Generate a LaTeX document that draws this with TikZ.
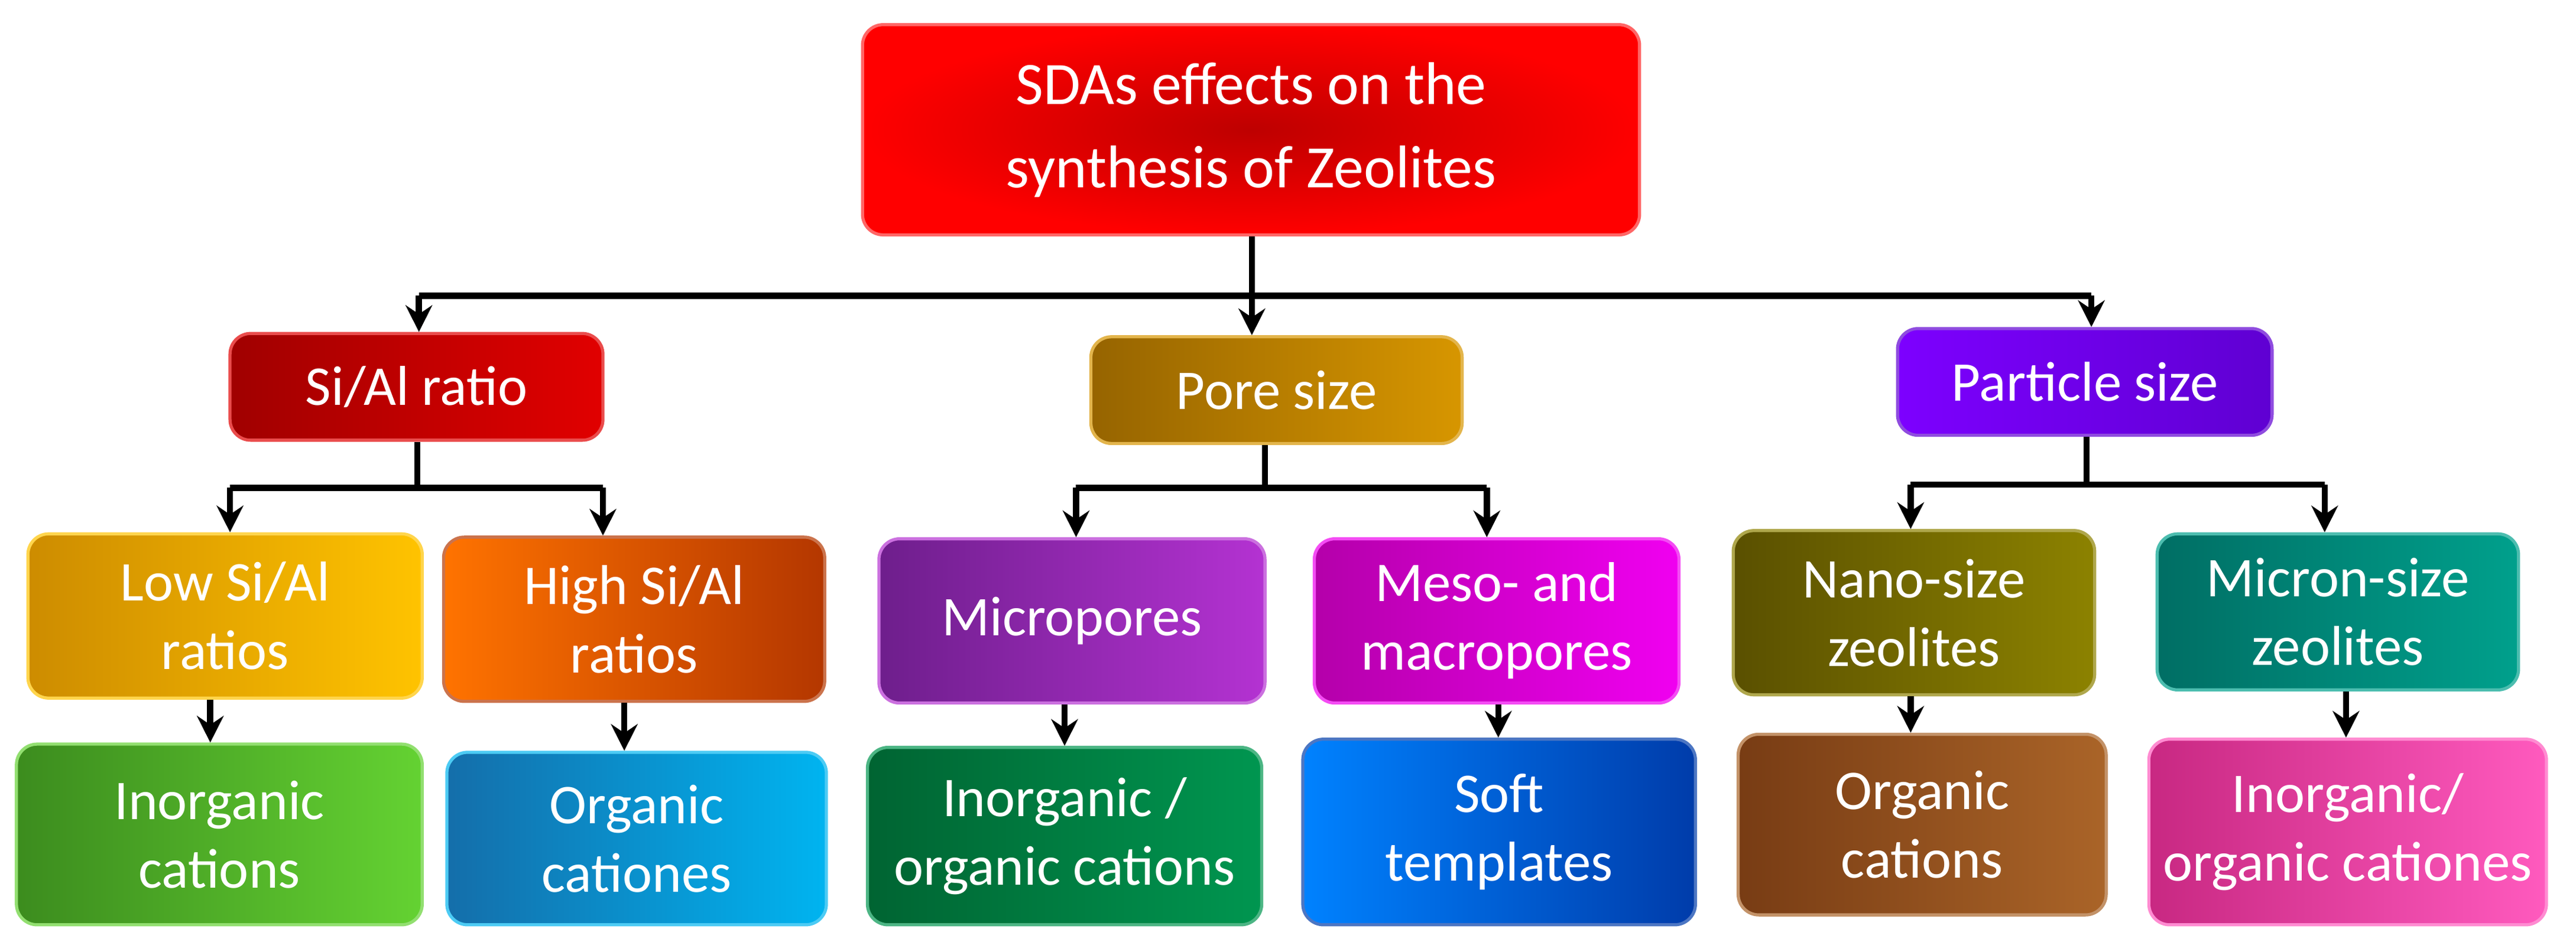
\documentclass[tikz,border=0pt]{standalone}
\usepackage{fontspec}
\setmainfont{Carlito}
\usetikzlibrary{arrows.meta}
\def\u{0.02779cm}
\tikzset{
  box/.style={rounded corners=0.35cm, line width=1.5pt, text=white, align=center,
    font=\fontsize{27}{33}\selectfont, inner sep=0pt},
  arr/.style={line width=3pt, -{Stealth[length=0.45cm,width=0.45cm,inset=0.15cm]}},
  ln/.style={line width=3pt},
}
\newcommand{\bx}[8]{% name cx cy w h c1 c2 text
  \node[box, minimum width=#4*\u, minimum height=#5*\u, left color=#6, right color=#7, draw=#7!70!white] (#1) at (#2,#3) {#8};}
\begin{document}
\begin{tikzpicture}[x=\u,y=-\u]
\useasboundingbox (0,0) rectangle (1568,575.3);
\definecolor{c1a}{RGB}{160,0,0}\definecolor{c1b}{RGB}{225,0,0}
\definecolor{c2a}{RGB}{150,100,0}\definecolor{c2b}{RGB}{215,150,0}
\definecolor{c3a}{RGB}{125,0,255}\definecolor{c3b}{RGB}{95,0,210}
\definecolor{c4a}{RGB}{205,140,0}\definecolor{c4b}{RGB}{255,195,0}
\definecolor{c5a}{RGB}{255,115,0}\definecolor{c5b}{RGB}{180,55,0}
\definecolor{c6a}{RGB}{110,30,140}\definecolor{c6b}{RGB}{180,50,210}
\definecolor{c7a}{RGB}{180,0,170}\definecolor{c7b}{RGB}{240,0,240}
\definecolor{c8a}{RGB}{90,80,0}\definecolor{c8b}{RGB}{140,130,0}
\definecolor{c9a}{RGB}{0,110,100}\definecolor{c9b}{RGB}{0,160,140}
\definecolor{d1a}{RGB}{60,140,30}\definecolor{d1b}{RGB}{100,210,50}
\definecolor{d2a}{RGB}{20,110,170}\definecolor{d2b}{RGB}{0,180,240}
\definecolor{d3a}{RGB}{0,100,50}\definecolor{d3b}{RGB}{0,150,80}
\definecolor{d4a}{RGB}{0,130,255}\definecolor{d4b}{RGB}{0,60,170}
\definecolor{d5a}{RGB}{120,60,20}\definecolor{d5b}{RGB}{170,100,40}
\definecolor{d6a}{RGB}{200,40,130}\definecolor{d6b}{RGB}{255,90,190}
\node[box, minimum width=473*\u, minimum height=128*\u, inner color={rgb,255:red,190;green,0;blue,0}, outer color=red, draw=red!60!white, font=\fontsize{29}{40}\selectfont] (top) at (761.5,79) {SDAs effects on the\\synthesis of Zeolites};
\bx{sial}{253.5}{235.5}{227}{65}{c1a}{c1b}{Si/Al ratio}
\bx{pore}{777}{237.5}{226}{65}{c2a}{c2b}{Pore size}
\bx{part}{1269}{232.5}{228}{65}{c3a}{c3b}{Particle size}
\bx{low}{137}{375}{240}{100}{c4a}{c4b}{Low Si/Al\\ratios}
\bx{high}{386}{377}{232}{100}{c5a}{c5b}{High Si/Al\\ratios}
\bx{micro}{652.5}{378}{235}{100}{c6a}{c6b}{Micropores}
\bx{meso}{911}{378}{222}{100}{c7a}{c7b}{Meso- and\\macropores}
\bx{nano}{1165}{373}{220}{100}{c8a}{c8b}{Nano-size\\zeolites}
\bx{micron}{1423}{372.5}{220}{95}{c9a}{c9b}{Micron-size\\zeolites}
\bx{inorg}{133.5}{508}{247}{110}{d1a}{d1b}{Inorganic\\cations}
\bx{org}{387.5}{510.5}{231}{105}{d2a}{d2b}{Organic\\cationes}
\bx{inorgorg}{648}{509}{240}{108}{d3a}{d3b}{Inorganic /\\organic cations}
\bx{soft}{912.5}{506.5}{239}{113}{d4a}{d4b}{Soft\\templates}
\bx{orgc}{1170}{502}{224}{110}{d5a}{d5b}{Organic\\cations}
\bx{inorgorg2}{1429}{506.5}{242}{113}{d6a}{d6b}{Inorganic/\\organic cationes}
% level 1
\coordinate (j0) at (762,180); \coordinate (jl) at (255,180); \coordinate (jr) at (1273,180);
\draw[ln] (top.south -| j0) -- (j0);
\draw[ln] (jl) -- (jr);
\draw[arr] (jl) -- (jl |- sial.north);
\draw[arr] (j0) -- (j0 |- pore.north);
\draw[arr] (jr) -- (jr |- part.north);
% level 2
\coordinate (a0) at (254,297); \coordinate (al) at (140,297); \coordinate (ar) at (367,297);
\draw[ln] (sial.south -| a0) -- (a0); \draw[ln] (al) -- (ar);
\draw[arr] (al) -- (al |- low.north); \draw[arr] (ar) -- (ar |- high.north);
\coordinate (b0) at (770,297); \coordinate (bl) at (655,297); \coordinate (br) at (905,297);
\draw[ln] (pore.south -| b0) -- (b0); \draw[ln] (bl) -- (br);
\draw[arr] (bl) -- (bl |- micro.north); \draw[arr] (br) -- (br |- meso.north);
\coordinate (c0) at (1270,295); \coordinate (cl) at (1163,295); \coordinate (cr) at (1415,295);
\draw[ln] (part.south -| c0) -- (c0); \draw[ln] (cl) -- (cr);
\draw[arr] (cl) -- (cl |- nano.north); \draw[arr] (cr) -- (cr |- micron.north);
% level 3
\coordinate (k1) at (128,0); \coordinate (k2) at (380,0); \coordinate (k3) at (648,0);
\coordinate (k4) at (912,0); \coordinate (k5) at (1163,0); \coordinate (k6) at (1428,0);
\draw[arr] (k1 |- low.south) -- (k1 |- inorg.north);
\draw[arr] (k2 |- high.south) -- (k2 |- org.north);
\draw[arr] (k3 |- micro.south) -- (k3 |- inorgorg.north);
\draw[arr] (k4 |- meso.south) -- (k4 |- soft.north);
\draw[arr] (k5 |- nano.south) -- (k5 |- orgc.north);
\draw[arr] (k6 |- micron.south) -- (k6 |- inorgorg2.north);
\end{tikzpicture}
\end{document}
